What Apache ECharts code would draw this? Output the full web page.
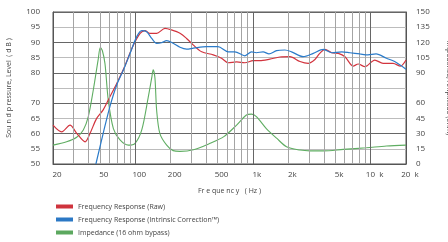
<!DOCTYPE html>
<html>
<head>
<meta charset="utf-8">
<script src="https://cdn.jsdelivr.net/npm/echarts@6/dist/echarts.min.js"></script>
<style>
  html, body { margin: 0; padding: 0; background: #fff; }
  #chart { width: 448px; height: 242px; }
</style>
</head>
<body>
<div id="chart"></div>
<script>
// frequency response, raw (Hz / dB)
const rawFreq = [20, 23.7, 27.9, 31.8, 37.5, 41.3, 47, 53.4, 60.9, 69.6, 81.1, 95, 110, 121, 133, 152, 179, 203, 240, 273, 312, 367, 460, 541, 617, 727, 855, 1004, 1143, 1392, 1694, 2063, 2512, 2953, 3366, 3700, 4100, 4670, 5320, 6060, 7120, 7850, 8940, 10870, 12760, 15530, 17950, 20000];
const rawSpl = [62.8, 60.6, 62.8, 60.1, 57.3, 60.1, 65, 67.8, 72.1, 76.5, 82, 88.6, 93, 93.9, 93, 93, 94.6, 94.1, 93, 91.3, 89.1, 86.9, 85.9, 84.8, 83.3, 83.6, 83.3, 84, 84, 84.5, 85.2, 85.3, 83.7, 83.1, 84.4, 86.4, 87.7, 86.6, 86.4, 85.3, 82.2, 82.9, 82, 84.2, 83.1, 83.1, 82.2, 84.2];

// frequency response, intrinsic correction
const corrFreq = [46.3, 53.4, 60.9, 69.6, 79.3, 90.4, 103, 113.6, 125, 138, 152, 167, 185, 210, 240, 273, 312, 403, 505, 617, 703, 855, 973, 1070, 1220, 1370, 1590, 1870, 2130, 2680, 3260, 3970, 4670, 5690, 6670, 8120, 9490, 11130, 13640, 16020, 20000];
const corrSpl = [50, 60.1, 68.9, 76, 80.9, 86.4, 91.9, 93.9, 93.5, 91.3, 89.7, 89.9, 90.6, 89.7, 88.4, 87.8, 88.1, 88.6, 88.6, 86.9, 86.9, 85.6, 86.9, 86.6, 86.9, 86.2, 87.3, 87.5, 86.9, 85.3, 86.4, 87.7, 86.6, 86.9, 86.6, 86.2, 85.9, 86.2, 84.8, 83.7, 81.2];

// impedance (ohm)
const impFreq = [20, 26.1, 31.8, 36.2, 39.9, 44, 48.4, 50.5, 52.5, 55.3, 59, 65.2, 74.2, 87.5, 99.6, 113.6, 129, 138, 142, 147, 152, 162, 185, 210, 240, 312, 433, 566, 727, 880, 973, 1070, 1300, 1590, 1930, 2510, 3050, 3970, 5870, 9210, 13640, 20000];
const impOhm = [18.6, 21.9, 26.4, 33.6, 46.8, 73, 103, 115, 112, 99, 63, 35, 23.7, 18.6, 20.4, 33.6, 66, 85, 93, 85, 53, 30, 18.6, 13.2, 12.5, 14, 20.4, 27, 38.4, 48.3, 49.2, 46.8, 35, 25.5, 17, 13.8, 13, 13, 14.4, 16, 17.7, 18.6];

// vertical grid frequencies and the labelled ones (20 and 20 k sit on the frame)
const gridFreqs = [30, 40, 50, 60, 70, 80, 90, 100, 200, 300, 400, 500, 600, 700, 800, 900, 1000, 2000, 3000, 4000, 5000, 6000, 7000, 8000, 9000, 10000];
const tickFreqs = [50, 100, 200, 500, 1000, 2000, 5000, 10000];
const tickLabels = ["50", "100", "200", "500", "1k", "2k", "5k", "10  k"];
const edgeLabels = { min: "20", max: "20  k" };

const seriesNames = [
  "Frequency Response (Raw)",
  "Frequency Response (Intrinsic Correction\u2122)",
  "Impedance (16 ohm bypass)"
];

const FONT = "Open Sans";
const zip = (xs, ys) => xs.map((x, i) => [x, ys[i]]);

// grid lines + inner tick labels as markLines on the log axis
const gridMarks = gridFreqs.map(f => {
  const li = tickFreqs.indexOf(f);
  const decade = f === 100 || f === 1000 || f === 10000;
  return {
    xAxis: f,
    lineStyle: { color: decade ? "#666" : "#a4a4a4", width: 1, type: "solid" },
    label: {
      show: li >= 0,
      position: "start",
      formatter: li >= 0 ? tickLabels[li] : "",
      distance: 7,
      offset: [4, 0],
      fontSize: 8,
      fontFamily: FONT,
      color: "#444"
    }
  };
});

const chart = echarts.init(document.getElementById("chart"));

chart.setOption({
  animation: false,
  backgroundColor: "#fff",
  grid: {
    left: 53, right: 42, top: 12, bottom: 78,
    outerBoundsMode: "none",
    containLabel: false,
    show: true, borderColor: "#555", borderWidth: 1
  },
  legend: {
    orient: "vertical",
    left: 56,
    top: 203,
    padding: 0,
    icon: "rect",
    itemWidth: 17,
    itemHeight: 4,
    itemGap: 6,
    data: seriesNames,
    textStyle: { fontSize: 7, fontFamily: FONT, color: "#444" }
  },
  xAxis: {
    type: "log",
    logBase: 10,
    min: 20,
    max: 20000,
    name: "Fr e que nc y   ( Hz )",
    nameLocation: "middle",
    nameGap: 23,
    nameTextStyle: { fontSize: 7, fontFamily: FONT, color: "#444" },
    axisLine: { show: true, lineStyle: { color: "#555" } },
    axisTick: { show: false },
    axisLabel: {
      show: true,
      showMinLabel: true,
      showMaxLabel: true,
      margin: 7,
      padding: [0, 0, 0, 8],
      fontSize: 8,
      fontFamily: FONT,
      color: "#444",
      formatter: v => (Math.abs(v - 20) < 0.5 ? edgeLabels.min : Math.abs(v - 20000) < 5 ? edgeLabels.max : "")
    },
    splitLine: { show: false },
    minorTick: { show: false },
    minorSplitLine: { show: false }
  },
  yAxis: [
    {
      type: "value",
      min: 50,
      max: 100,
      interval: 5,
      name: "Sou n d p ressure, Level  ( d B )",
      nameLocation: "middle",
      nameGap: 41,
      nameTextStyle: { fontSize: 7, fontFamily: FONT, color: "#444" },
      axisLine: { show: true, lineStyle: { color: "#555" } },
      axisTick: { show: false },
      axisLabel: {
        margin: 13,
        fontSize: 8,
        fontFamily: FONT,
        color: "#444",
        formatter: v => (v === 75 ? "" : String(v))
      },
      splitLine: { show: true, lineStyle: { color: ["#666", "#bcbcbc"], width: 1 } }
    },
    {
      type: "value",
      min: 0,
      max: 150,
      interval: 15,
      position: "right",
      name: "Impedance, Amplitude (ohm)",
      nameLocation: "middle",
      nameRotate: -90,
      nameGap: 39,
      nameTextStyle: { fontSize: 7, fontFamily: FONT, color: "#444" },
      axisLine: { show: true, lineStyle: { color: "#555" } },
      axisTick: { show: false },
      axisLabel: {
        margin: 10,
        fontSize: 8,
        fontFamily: FONT,
        color: "#444",
        formatter: v => (v === 75 ? "" : String(v))
      },
      splitLine: { show: false }
    }
  ],
  series: [
    {
      name: seriesNames[0],
      type: "line",
      yAxisIndex: 0,
      smooth: 0.3,
      showSymbol: false,
      data: zip(rawFreq, rawSpl),
      itemStyle: { color: "#cf333d" },
      lineStyle: { color: "#d2343e", width: 1.2 },
      z: 4,
      markLine: {
        silent: true,
        symbol: "none",
        animation: false,
        data: gridMarks
      }
    },
    {
      name: seriesNames[1],
      type: "line",
      yAxisIndex: 0,
      smooth: 0.3,
      showSymbol: false,
      data: zip(corrFreq, corrSpl),
      itemStyle: { color: "#2b78c5" },
      lineStyle: { color: "#2b7bc9", width: 1.2 },
      z: 5
    },
    {
      name: seriesNames[2],
      type: "line",
      yAxisIndex: 1,
      smooth: 0.3,
      showSymbol: false,
      data: zip(impFreq, impOhm),
      itemStyle: { color: "#5ca85f" },
      lineStyle: { color: "#5fad62", width: 1.1 },
      z: 3
    }
  ]
});
</script>
</body>
</html>
